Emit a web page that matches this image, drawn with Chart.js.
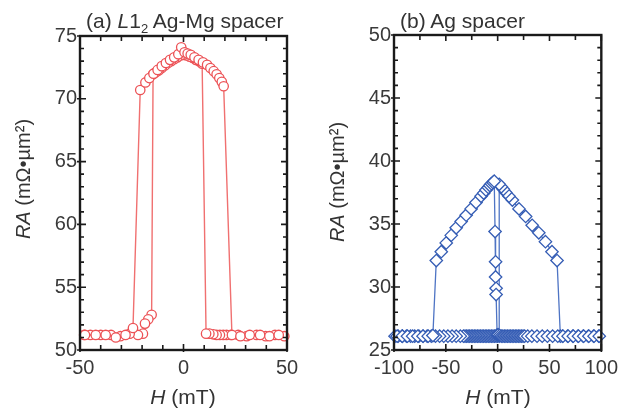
<!DOCTYPE html>
<html>
<head>
<meta charset="utf-8">
<script src="https://cdn.jsdelivr.net/npm/chart.js@4.4.1/dist/chart.umd.min.js"></script>
<style>
  body { margin: 0; background: #fff; }
  #wrap { position: relative; width: 624px; height: 412px; overflow: hidden;
          font-family: "Liberation Sans", Arial, sans-serif; color: #333; }
  canvas { position: absolute; top: 0; }
  .lbl { position: absolute; font-size: 21px; line-height: 24px; white-space: nowrap; }
  .lbl sub { font-size: 13px; line-height: 0; vertical-align: -5px; }
  .xlbl { position: absolute; width: 200px; text-align: center; font-size: 21px; line-height: 24px; white-space: nowrap; }
  .ylbl { position: absolute; width: 200px; height: 24px; text-align: center; font-size: 20px;
          line-height: 24px; white-space: nowrap; transform: rotate(-90deg); }
</style>
</head>
<body>
<div id="wrap">
  <canvas id="chartA" width="312" height="412" style="left:0"></canvas>
  <canvas id="chartB" width="312" height="412" style="left:312px"></canvas>
  <div class="lbl" style="left:86px;top:9px">(a) <i>L</i>1<sub>2</sub> Ag-Mg spacer</div>
  <div class="lbl" style="left:400px;top:9px">(b) Ag spacer</div>
  <div class="xlbl" style="left:83px;top:385px"><i>H</i> (mT)</div>
  <div class="xlbl" style="left:398px;top:385px"><i>H</i> (mT)</div>
  <div class="ylbl" style="left:-77px;top:167px"><i>RA</i> (mΩ•µm²)</div>
  <div class="ylbl" style="left:237px;top:170px"><i>RA</i> (mΩ•µm²)</div>
</div>
<script>
// (a) L1_2 Ag-Mg spacer: field swept up, then swept down
const aUpH = [-47.6, -42.4, -37.6, -32.7, -28, -24.4, -20.9, -18.4, -16.5, -14.5, -12.5, -10.5, -8.5, -6.5, -4.5, -2.5, -1.1, 0.5,
              2, 3.5, 5.3, 7.3, 9.4, 11.4, 13, 14.6, 16, 17.3, 18.5, 19.4, 23.4, 27.5, 32, 37, 41.5, 46];
const aUpRA = [51.2, 51.2, 51.2, 51.0, 51.2, 51.75, 70.7, 71.3, 71.65, 72.0, 72.3, 72.6, 72.85, 73.1, 73.3, 73.55, 74.1, 73.7,
               73.6, 73.5, 73.3, 73.1, 72.9, 72.7, 72.45, 72.2, 71.95, 71.65, 71.35, 71.0, 51.2, 51.1, 51.2, 51.2, 51.1, 51.2];
const aDownH = [48.7, 44.2, 39.7, 35.3, 30.5, 26.4, 22.9, 20.8, 19.2, 17.6, 16.0, 14.4, 12.5, 10.9,
                9.0, 7.5, 6, 4.5, 3, 1.5, 0, -1.5, -3, -4.5, -6, -7.5, -9, -10.5, -12, -13.5, -14.7,
                -15.4, -17, -18.6, -19.6, -22, -26, -30.5, -35, -40, -45, -48];
const aDownRA = [51.1, 51.2, 51.1, 51.2, 51.1, 51.2, 51.2, 51.2, 51.2, 51.2, 51.2, 51.25, 51.3, 51.3,
                 72.8, 73.0, 73.1, 73.25, 73.35, 73.45, 73.5, 73.45, 73.3, 73.15, 73.0, 72.85, 72.65, 72.45, 72.25, 72.1, 71.95,
                 52.8, 52.45, 52.1, 51.3, 51.2, 51.3, 51.1, 51.2, 51.2, 51.2, 51.2];

// (b) Ag spacer
const bUpH = [-97, -92, -87, -82, -77, -72, -67, -62.5,
              -59.2, -54.4, -49.6, -44.8, -40, -35.2, -30.4, -25.6, -20.9, -16, -13.5, -11.3, -9, -7.5, -6, -4.5, -3.3,
              -2.5, -2, -2, -1.5, -1.5, -0.5,
              0.5, 2, 3.5, 5, 6.5, 8, 9.5, 11, 12.5, 14, 15.5, 17, 18.5, 20, 21.5, 23, 24.5, 26,
              29, 33, 38, 43, 48, 53, 58, 63, 68, 73, 78, 83, 88, 93, 98];
const bUpRA = [26.1, 26.1, 26.1, 26.1, 26.1, 26.1, 26.1, 26.15,
               32.1, 32.8, 33.5, 34.1, 34.7, 35.2, 35.7, 36.2, 36.7, 37.2, 37.45, 37.7, 37.9, 38.05, 38.2, 38.3, 38.4,
               34.4, 32.0, 30.8, 29.9, 29.4, 26.2,
               26.2, 26.15, 26.1, 26.1, 26.1, 26.1, 26.1, 26.1, 26.1, 26.1, 26.1, 26.1, 26.1, 26.1, 26.1, 26.1, 26.1, 26.1,
               26.1, 26.1, 26.1, 26.1, 26.1, 26.1, 26.1, 26.1, 26.1, 26.1, 26.1, 26.1, 26.1, 26.1, 26.1];
const bDownH = [97.5, 92.5, 87.5, 82.5, 77.5, 72.5, 67.5, 62.5, 60.5,
                57.3, 52.4, 46.1, 39.7, 33.3, 27, 20.6, 14.2, 11, 7.8, 5.5, 3.5, 1.5,
                1.5,
                0, -1.5, -3, -4.5, -6, -7.5, -9, -10.5, -12, -13.5, -15, -16.5, -18, -19.5, -21, -22.5, -24, -25.5, -27, -28.5, -30, -31.5, -33,
                -36, -40, -44, -48, -52, -56, -60, -64, -68, -72, -76, -80, -84, -88, -92, -96, -99];
const bDownRA = [26.1, 26.1, 26.1, 26.1, 26.1, 26.1, 26.1, 26.1, 26.1,
                 32.1, 32.8, 33.6, 34.3, 34.9, 35.6, 36.2, 36.9, 37.2, 37.5, 37.75, 37.95, 38.15,
                 26.1,
                 26.1, 26.1, 26.1, 26.1, 26.1, 26.1, 26.1, 26.1, 26.1, 26.1, 26.1, 26.1, 26.1, 26.1, 26.1, 26.1, 26.1, 26.1, 26.1, 26.1, 26.1, 26.1, 26.1,
                 26.1, 26.1, 26.1, 26.1, 26.1, 26.1, 26.1, 26.1, 26.1, 26.1, 26.1, 26.1, 26.1, 26.1, 26.1, 26.1, 26.1];
// end points that sit on top of the low band
const bMarkH = [-92, 0.5];
const bMarkRA = [26.1, 26.2];

// tick positions
const aXMajor = [-50, 0, 50], aXMinor = [-40, -30, -20, -10, 10, 20, 30, 40];
const aYMajor = [50, 55, 60, 65, 70, 75];
const aYMinor = [51, 52, 53, 54, 56, 57, 58, 59, 61, 62, 63, 64, 66, 67, 68, 69, 71, 72, 73, 74];
const bXMajor = [-100, -50, 0, 50, 100], bXMinor = [-75, -25, 25, 75];
const bYMajor = [25, 30, 35, 40, 45, 50];
const bYMinor = [26, 27, 28, 29, 31, 32, 33, 34, 36, 37, 38, 39, 41, 42, 43, 44, 46, 47, 48, 49];

const RED = 'rgb(236, 82, 86)', RED_LINE = 'rgb(240, 112, 112)';
const BLUE = 'rgb(52, 92, 180)', BLUE_LINE = 'rgb(78, 116, 196)';
const FONT = { family: '"Liberation Sans", Arial, sans-serif', size: 20 };

function pts(hs, ras) {
    return hs.map((h, i) => ({ x: h, y: ras[i] }));
}

// box frame with inward ticks on all four sides
function frameTicks(xMajor, xMinor, yMajor, yMinor) {
    return {
        id: 'frameTicks',
        afterDatasetsDraw(chart) {
            const { ctx, chartArea: a } = chart;
            const xs = chart.scales.x, ys = chart.scales.y;
            ctx.save();
            ctx.strokeStyle = '#1a1a1a';
            ctx.lineWidth = 1.6;
            const tick = (vals, len, out, isX) => {
                vals.forEach(v => {
                    ctx.beginPath();
                    if (isX) {
                        const p = xs.getPixelForValue(v);
                        ctx.moveTo(p, a.bottom + out); ctx.lineTo(p, a.bottom - len);
                        ctx.moveTo(p, a.top); ctx.lineTo(p, a.top + len);
                    } else {
                        const p = ys.getPixelForValue(v);
                        ctx.moveTo(a.left - out, p); ctx.lineTo(a.left + len, p);
                        ctx.moveTo(a.right, p); ctx.lineTo(a.right - len, p);
                    }
                    ctx.stroke();
                });
            };
            tick(xMajor, 6, 2, true);
            tick(xMinor, 5, 0, true);
            tick(yMajor, 6, 3, false);
            tick(yMinor, 4, 0, false);
            ctx.lineWidth = 2.4;
            ctx.strokeRect(a.left, a.top, a.width, a.height);
            ctx.restore();
        }
    };
}

function series(data, color, lineColor, style, radius, lineWidth) {
    return {
        data: data,
        showLine: true,
        borderColor: lineColor,
        borderWidth: lineWidth,
        pointStyle: style,
        pointRadius: radius,
        pointBorderColor: color,
        pointBackgroundColor: '#fff',
        pointBorderWidth: 1.3,
        clip: false
    };
}

function makeChart(id, datasets, xMin, xMax, xStep, yMin, yMax, yWidth, padRight, padTop, frame) {
    return new Chart(document.getElementById(id), {
        type: 'scatter',
        data: { datasets: datasets },
        options: {
            responsive: false,
            animation: false,
            events: [],
            layout: { padding: { left: 0, right: padRight, top: padTop, bottom: 0 } },
            scales: {
                x: {
                    type: 'linear', min: xMin, max: xMax,
                    grid: { display: false, drawTicks: false },
                    border: { display: false },
                    ticks: { stepSize: xStep, font: FONT, color: '#3a3a3a', padding: 6, maxRotation: 0, autoSkip: false },
                    afterFit: s => { s.height = 62; }
                },
                y: {
                    type: 'linear', min: yMin, max: yMax,
                    grid: { display: false, drawTicks: false },
                    border: { display: false },
                    ticks: { stepSize: 5, font: FONT, color: '#3a3a3a', padding: 3, autoSkip: false },
                    afterFit: s => { s.width = yWidth; }
                }
            },
            plugins: { legend: { display: false }, tooltip: { enabled: false } }
        },
        plugins: [frame]
    });
}

makeChart('chartA', [
    series(pts(aUpH, aUpRA), RED, RED_LINE, 'circle', 4.7, 1.4),
    series(pts(aDownH, aDownRA), RED, RED_LINE, 'circle', 4.7, 1.4)
], -50, 50, 50, 50, 75, 80, 25, 36, frameTicks(aXMajor, aXMinor, aYMajor, aYMinor));

const marks = series(pts(bMarkH, bMarkRA), BLUE, BLUE_LINE, 'rectRot', 6.2, 1.3);
marks.showLine = false;

makeChart('chartB', [
    series(pts(bUpH, bUpRA), BLUE, BLUE_LINE, 'rectRot', 6.2, 1.3),
    series(pts(bDownH, bDownRA), BLUE, BLUE_LINE, 'rectRot', 6.2, 1.3),
    marks
], -100, 100, 50, 25, 50, 82, 21, 35, frameTicks(bXMajor, bXMinor, bYMajor, bYMinor));
</script>
</body>
</html>
